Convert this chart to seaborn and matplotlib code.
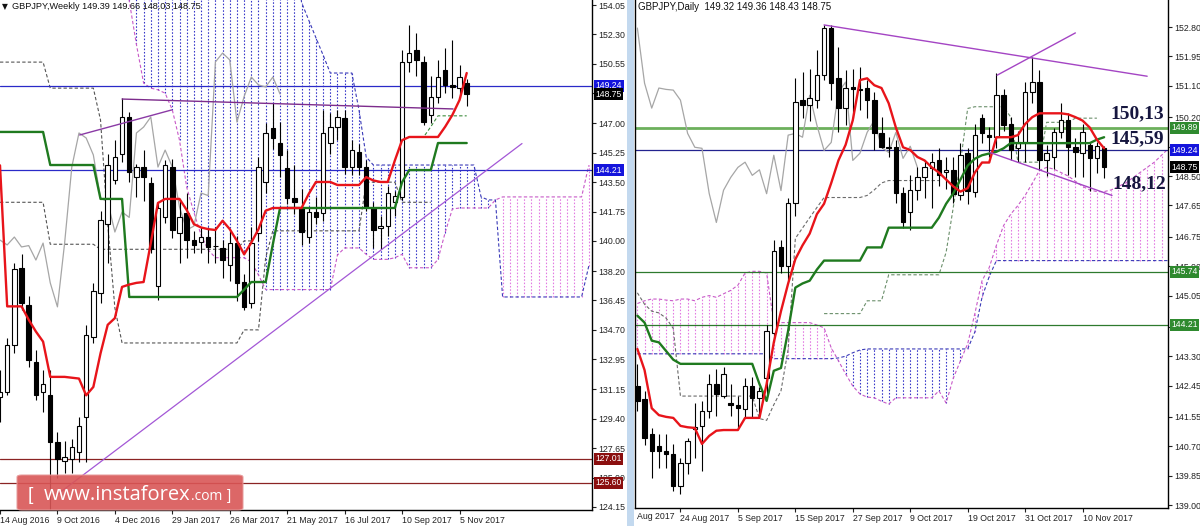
import numpy as np
import pandas as pd
import matplotlib
matplotlib.use('Agg')
import matplotlib.pyplot as plt
import matplotlib.transforms as mtransforms
from matplotlib.patches import Rectangle, FancyBboxPatch
import seaborn as sns

# ---------------- weekly GBPJPY (bar 0 = week of 14 Aug 2016) ----------------
w_open = [130.7, 131.0, 133.8, 138.4, 136.2, 132.8, 131.0, 130.8, 128.0, 126.9,
          127.0, 127.4, 129.5, 134.3, 136.9, 141.0, 143.6, 145.2, 147.4, 143.8,
          144.4, 143.45, 137.3, 141.4, 144.4, 140.5, 141.66, 140.05, 139.94, 140.23,
          139.68, 139.58, 138.57, 139.87, 137.55, 136.3, 140.47, 143.5, 146.72, 145.83,
          144.34, 142.56, 141.96, 140.23, 141.7, 141.66, 145.83, 146.78, 147.32, 144.4,
          145.29, 144.4, 141.96, 140.76, 140.88, 142.32, 142.62, 150.66, 151.37, 150.66,
          147.5, 148.6, 150.18, 149.29, 149.1, 149.39]
w_high = [132.3, 134.2, 138.7, 139.2, 136.7, 133.5, 132.3, 132.3, 128.6, 128.1,
          128.2, 129.5, 135.0, 137.5, 141.8, 145.2, 146.0, 148.5, 147.7, 144.6,
          145.4, 143.8, 142.26, 144.8, 144.9, 142.44, 142.85, 140.6, 140.8, 140.8,
          140.8, 140.05, 140.6, 140.3, 138.0, 140.8, 145.0, 147.0, 148.2, 147.1,
          145.4, 144.5, 143.1, 142.0, 142.6, 147.8, 147.6, 147.8, 147.8, 146.0,
          145.8, 144.8, 142.3, 141.5, 143.3, 143.0, 151.37, 152.86, 152.38, 151.0,
          149.8, 150.8, 151.49, 151.97, 150.48, 149.66]
w_low = [129.2, 130.8, 133.3, 135.9, 132.5, 130.5, 129.8, 122.4, 125.9, 126.2,
         126.2, 126.8, 126.8, 133.9, 136.3, 138.7, 143.4, 144.7, 143.5, 142.6,
         142.4, 139.3, 136.48, 141.07, 140.2, 138.7, 139.0, 139.3, 139.3, 138.7,
         138.7, 137.8, 137.6, 136.4, 135.9, 136.0, 140.0, 142.85, 145.5, 143.8,
         142.2, 141.6, 139.76, 139.9, 141.0, 141.2, 145.2, 146.0, 144.0, 143.9,
         143.9, 141.8, 139.58, 139.5, 140.3, 141.5, 142.44, 150.06, 149.8, 146.9,
         147.03, 148.2, 148.8, 148.5, 148.5, 148.03]
w_close = [131.0, 133.8, 138.3, 136.3, 132.9, 130.8, 131.5, 128.0, 127.0, 127.1,
           127.7, 129.0, 134.4, 137.0, 141.25, 144.5, 145.0, 147.4, 144.1, 144.4,
           143.8, 139.5, 141.96, 144.5, 140.65, 141.43, 140.05, 139.76, 140.23, 139.64,
           139.72, 138.86, 139.87, 137.5, 136.07, 139.87, 144.4, 146.43, 146.13, 145.12,
           142.56, 142.32, 140.53, 141.72, 141.4, 146.43, 146.78, 147.38, 144.4, 145.41,
           144.4, 142.02, 140.65, 140.88, 142.85, 142.7, 150.66, 151.19, 150.78, 147.08,
           148.6, 149.76, 149.29, 149.17, 149.76, 148.75]

w_tenkan = [144.5, 136.1, 136.1, 136.1, 135.3, 134.6, 134.0, 131.9, 131.9, 131.9,
            131.85, 131.8, 130.8, 131.3, 133.3, 135.0, 135.4, 137.26, 137.4, 137.5,
            137.55, 139.87, 142.26, 142.5, 142.5, 142.5, 141.84, 141.0, 140.8, 140.7,
            140.65, 141.2, 140.7, 140.0, 139.2, 139.9, 140.7, 141.8, 141.96, 141.96,
            141.96, 141.96, 141.96, 142.8, 143.51, 143.51, 143.51, 143.33, 143.33, 143.33,
            143.33, 143.8, 143.6, 143.51, 143.51, 144.8, 146.0, 146.19, 146.19, 146.19,
            146.19, 146.19, 146.8, 147.5, 148.39, 150.0]
w_kijun = ([146.49] * 7 + [144.52] * 7 + [142.5] * 4 + [136.66] * 16 + [137.1]
           + [137.55] * 3 + [139.8] + [141.96] * 17 + [143.5] + [144.22] * 4 + [145.83] * 5)

# senkou spans, bar 0 .. 82 (values above 154 lie off the top of the chart)
w_span_a = ([157.0] * 18 + [154.3, 151.7, 149.4, 149.1, 149.0, 148.8, 147.8, 146.0, 143.2, 141.7,
                            140.35, 139.46, 139.0, 139.0, 139.0, 139.0, 139.0, 138.75, 137.97, 137.1]
            + [137.1] * 9 + [139.16, 139.58, 139.58, 139.58, 139.2, 138.9, 138.9, 138.9, 139.0, 139.2,
                             138.4, 138.4, 138.4, 138.4, 138.9, 140.5, 141.9]
            + [141.96] * 5 + [142.44] + [142.62] * 12 + [144.5])
w_span_b = ([158.0] * 42 + [154.2, 153.15, 152.1, 151.07, 150.0, 150.0, 150.0, 150.0, 147.8, 145.0]
            + [144.52] * 15 + [142.62, 142.44, 142.44] + [136.66] * 12 + [138.5])

# extra dashed lines on the weekly chart
w_dash_gray = ([150.65] * 7 + [149.1] * 7 + [147.2, 141.0, 136.0] + [133.92] * 17 + [134.7] * 3
               + [139.0] + [140.6] * 13 + [143.5] * 5 + [142.3] * 5)
w_dash_gray2 = [142.3] * 7 + [139.8] * 7 + [139.5] * 20 + [140.0] * 2
w_dash_green = [146.19] * 3 + [146.8] + [147.45] * 5      # bars 57 .. 65

w_dates = ['14 Aug 2016', '9 Oct 2016', '4 Dec 2016', '29 Jan 2017', '26 Mar 2017',
           '21 May 2017', '16 Jul 2017', '10 Sep 2017', '5 Nov 2017']
w_yticks = [154.05, 152.30, 150.55, 148.80, 147.00, 145.25, 143.50, 141.75, 140.00, 138.20,
            136.45, 134.70, 132.95, 131.15, 129.40, 127.65, 125.90, 124.15]
w_hidden = [148.80]            # covered by the price tags

# ---------------- daily GBPJPY (bar 0 = 14 Aug 2017, data from bar 2) ----------------
d_open = [142.44, 142.07, 141.06, 140.71, 140.56, 140.48, 139.55, 140.22, 141.2, 141.29,
          141.72, 142.5, 142.15, 141.95, 141.89, 141.78, 142.44, 142.1, 142.68, 143.98,
          146.44, 145.9, 147.71, 150.69, 150.54, 150.69, 151.41, 152.77, 151.32, 150.46,
          151.06, 151.0, 151.04, 150.69, 149.73, 149.33, 149.33, 148.0, 147.45, 148.09,
          148.46, 148.72, 148.95, 148.63, 148.66, 147.94, 149.16, 148.03, 150.17, 149.68,
          149.62, 150.83, 149.99, 149.3, 149.47, 150.92, 151.21, 148.95, 149.04, 149.76,
          150.11, 149.33, 149.16, 149.39, 149.01, 149.32]
d_high = [143.08, 142.3, 141.23, 141.06, 141.06, 140.77, 140.37, 140.95, 141.95, 142.01,
          142.79, 142.94, 143.0, 142.5, 142.15, 142.68, 142.7, 142.4, 144.2, 146.64,
          146.64, 147.88, 151.32, 151.5, 151.6, 152.13, 152.86, 152.86, 152.22, 151.56,
          151.6, 151.64, 151.27, 150.92, 150.2, 149.62, 149.53, 148.17, 148.52, 148.75,
          148.95, 149.16, 149.3, 149.04, 149.04, 149.45, 149.3, 150.0, 150.3, 149.91,
          151.47, 151.0, 150.2, 149.8, 151.2, 151.93, 151.56, 149.4, 149.9, 150.6,
          150.31, 149.6, 150.0, 149.47, 149.47, 149.36]
d_low = [141.72, 140.75, 139.78, 140.07, 140.07, 139.41, 139.32, 139.9, 140.37, 139.98,
         141.52, 141.58, 142.1, 141.58, 141.23, 141.52, 141.52, 141.52, 142.21, 143.7,
         145.7, 145.5, 147.36, 150.17, 150.1, 150.46, 151.27, 150.69, 149.76, 149.97,
         150.17, 150.4, 150.17, 149.24, 149.3, 149.04, 147.71, 147.01, 146.93, 147.8,
         147.88, 147.59, 148.2, 148.14, 147.71, 147.8, 147.69, 147.9, 149.44, 149.04,
         149.3, 149.8, 148.95, 148.9, 148.9, 150.6, 148.66, 148.5, 148.7, 149.6,
         148.52, 148.46, 148.46, 148.08, 148.6, 148.43]
d_close = [142.01, 140.94, 140.56, 140.56, 140.48, 139.55, 140.22, 140.85, 141.25, 141.72,
           142.5, 142.21, 142.79, 141.89, 141.8, 142.44, 142.1, 142.3, 144.04, 146.35,
           145.9, 147.71, 150.63, 150.54, 150.75, 151.41, 152.77, 151.18, 150.46, 151.04,
           151.0, 150.98, 150.69, 149.73, 149.33, 149.3, 148.0, 147.16, 148.09, 148.46,
           148.75, 148.9, 148.52, 148.68, 147.99, 149.1, 148.08, 149.68, 149.73, 149.62,
           150.83, 149.97, 149.24, 149.47, 150.92, 151.21, 148.95, 149.16, 149.76, 150.11,
           149.33, 149.18, 149.76, 149.01, 149.36, 148.75]

d_tenkan = [143.51, 142.9, 141.8, 141.6, 141.55, 141.52, 141.29, 141.25, 141.23, 140.77,
            141.0, 141.15, 141.17, 141.17, 141.17, 141.52, 141.52, 141.52, 142.5, 143.7,
            144.6, 145.4, 146.1, 146.5, 146.84, 147.4, 147.7, 148.3, 148.95, 149.4,
            150.11, 151.27, 151.32, 151.12, 151.04, 150.6, 149.9, 149.33, 149.25, 149.05,
            148.95, 148.75, 148.6, 148.4, 148.2, 148.05, 148.15, 148.6, 148.89, 148.89,
            149.62, 149.62, 149.62, 149.68, 150.0, 150.2, 150.31, 150.31, 150.31, 150.31,
            150.28, 150.2, 150.1, 149.9, 149.55, 149.3]
d_kijun = ([144.47, 144.27, 143.75, 143.7, 143.45, 143.2] + [143.08] * 11 + [142.5, 142.01]
           + [142.88, 142.96, 144.04, 145.28, 145.4, 145.48, 145.8] + [146.06] * 6 + [146.44] * 3
           + [147.01] * 7 + [147.3, 147.7, 148.0, 148.4, 148.8, 149.0, 149.1, 149.15, 149.2, 149.3]
           + [149.45] * 12 + [149.55, 149.62])

# senkou spans, bar 2 .. 76
d_span_a = ([144.82, 144.9, 144.95, 144.95, 144.92, 144.9, 144.95, 144.95, 144.9, 145.0,
             145.05, 145.0, 145.1, 145.2, 145.35, 145.7, 145.75, 145.75, 145.7]
            + [144.27] * 6 + [144.2, 144.12, 143.54, 143.17, 142.79, 142.44, 142.21, 142.12,
                              142.1, 142.0, 141.92] + [142.1] * 6
            + [142.3, 141.95, 142.67, 143.17, 143.66, 144.53, 145.48, 145.86, 146.5, 147.07,
               147.4, 147.65, 147.94, 148.29, 148.66, 148.75, 148.7, 148.6, 148.5, 148.35,
               148.2, 148.1, 148.05, 148.05, 148.1, 148.2, 148.3, 148.45, 148.6, 148.75,
               148.9, 149.1, 149.3])
d_span_b = ([143.37] * 19 + [143.23] * 9 + [143.25, 143.3, 143.4, 143.48] + [143.51] * 15
            + [144.0, 145.0, 145.6] + [146.06] * 25)

d_dash_gray = ([145.13, 144.8, 144.6, 144.55, 144.4, 144.1] + [142.15] * 11
               + [141.5, 141.45, 141.9, 142.3, 143.5, 146.7, 147.0, 147.3, 147.59]
               + [147.88] * 6 + [147.94, 148.1, 148.3] + [148.37] * 8)          # bars 2 .. 44
d_dash_gray2 = ([144.53] * 6 + [144.9] * 3 + [145.65] * 8 + [146.3, 147.6, 148.9, 150.45]
                + [150.5] * 5 + [150.2] + [148.9] * 4 + [150.05] * 4 + [150.17] * 4)  # bars 28 .. 66

d_dates = ['24 Aug 2017', '5 Sep 2017', '15 Sep 2017', '27 Sep 2017', '9 Oct 2017',
           '19 Oct 2017', '31 Oct 2017', '10 Nov 2017']
d_yticks = [152.80, 151.95, 151.10, 150.20, 149.35, 148.50, 147.65, 146.75, 145.90, 145.05,
            144.15, 143.30, 142.45, 141.55, 140.70, 139.85, 139.00]
d_hidden = [149.35, 144.15]    # covered by the price tags

BLUE_HATCH = '#3434c8'
PINK_HATCH = '#e27ae2'
SPAN_A = '#c85ac8'
SPAN_B = '#3a3ab8'


def draw_candles(ax, x, o, h, l, c, width=0.62):
    ax.vlines(x, l, h, color='black', lw=0.8, zorder=4)
    for xi, oi, ci in zip(x, o, c):
        lo, hi = min(oi, ci), max(oi, ci)
        fc = 'white' if ci >= oi else 'black'
        ax.add_patch(Rectangle((xi - width / 2, lo), width, max(hi - lo, 0.015),
                               facecolor=fc, edgecolor='black', lw=0.8, zorder=4.5))


def draw_cloud(ax, a, b, start):
    x = np.arange(start, start + len(a))
    a = np.array(a)
    b = np.array(b)
    bear = b > a
    ax.vlines(x[bear], a[bear], b[bear], colors=BLUE_HATCH, linestyles=(0, (1.4, 1.6)), lw=0.8, zorder=1)
    ax.vlines(x[~bear], b[~bear], a[~bear], colors=PINK_HATCH, linestyles=(0, (1.4, 1.6)), lw=0.8, zorder=1)
    ax.plot(x, a, color=SPAN_A, ls=(0, (3, 2)), lw=0.8, zorder=1.5)
    ax.plot(x, b, color=SPAN_B, ls=(0, (3, 2)), lw=0.8, zorder=1.5)


def tag(ax, price, text, fc, tc='white'):
    tr = mtransforms.blended_transform_factory(ax.transAxes, ax.transData)
    ax.text(1.006, price, text, transform=tr, ha='left', va='center', fontsize=6.2, color=tc,
            zorder=10, clip_on=False,
            bbox=dict(boxstyle='square,pad=0.18', fc=fc, ec='none'))


def tick_text(values, hidden):
    return ['' if v in hidden else f'{v:.2f}' for v in values]


sns.set_theme(style='white')
plt.rcParams['font.family'] = ['Liberation Sans', 'DejaVu Sans']

fig = plt.figure(figsize=(12, 5.26), dpi=100)
fig.patch.set_facecolor('white')
axL = fig.add_axes([0, 1 - 510 / 526, 592 / 1200, 510 / 526])
axR = fig.add_axes([635 / 1200, 1 - 508 / 526, 533 / 1200, 508 / 526])

# ---------------- weekly panel ----------------
wx = np.arange(len(w_close))
draw_cloud(axL, w_span_a, w_span_b, 0)
axL.plot(np.arange(len(w_dash_gray)), w_dash_gray, color='#555555', ls=(0, (3, 2)), lw=0.8, zorder=2)
axL.plot(np.arange(len(w_dash_gray2)), w_dash_gray2, color='#555555', ls=(0, (3, 2)), lw=0.8, zorder=2)
axL.plot(np.arange(57, 57 + len(w_dash_green)), w_dash_green, color='#3c8c3c', ls=(0, (3, 2)), lw=0.8, zorder=2)

for lvl in (149.24, 144.21):
    axL.axhline(lvl, color='#2a2ac8', lw=0.9, zorder=2)
for lvl in (127.01, 125.60):
    axL.axhline(lvl, color='#8b2323', lw=0.9, zorder=2)

axL.plot([17, 63.1], [148.45, 147.86], color='#7d2c8c', lw=1.0, zorder=6)
axL.plot([11.1, 23.9], [146.31, 147.8], color='#8a3aa5', lw=1.0, zorder=6)
axL.plot([8, 72.7], [124.9, 145.8], color='#a357d6', lw=0.9, zorder=6)

weekly = pd.DataFrame({'bar': wx, 'tenkan': w_tenkan, 'kijun': w_kijun})
chik_w = pd.DataFrame({'bar': np.arange(len(w_close) - 26), 'chikou': w_close[26:]})
sns.lineplot(data=chik_w, x='bar', y='chikou', color='#a6a6a6', lw=0.9, ax=axL, zorder=3)
draw_candles(axL, wx, w_open, w_high, w_low, w_close)
sns.lineplot(data=weekly, x='bar', y='kijun', color='#1f7a1f', lw=1.7, ax=axL, zorder=5)
sns.lineplot(data=weekly, x='bar', y='tenkan', color='#e8141a', lw=1.7, ax=axL, zorder=5)

axL.set_xlim(0, 82.45)
axL.set_ylim(123.97, 154.35)
axL.set_xticks(np.arange(0, 65, 8))
axL.set_xticklabels(w_dates)
axL.set_yticks(w_yticks)
axL.set_yticklabels(tick_text(w_yticks, w_hidden))
axL.yaxis.tick_right()

tag(axL, 149.24, '149.24', '#1414dc')
tag(axL, 148.75, '148.75', '#000000')
tag(axL, 144.21, '144.21', '#1414dc')
tag(axL, 127.01, '127.01', '#8b0f0f')
tag(axL, 125.60, '125.60', '#8b0f0f')
axL.text(0.003, 0.997, '\u25BC', transform=axL.transAxes, ha='left', va='top', fontsize=5.5,
         color='#111111', family='DejaVu Sans', zorder=10)
axL.text(0.021, 0.997, 'GBPJPY,Weekly 149.39 149.66 148.03 148.75', transform=axL.transAxes,
         ha='left', va='top', fontsize=6.6, color='#111111', zorder=10)

# ---------------- daily panel ----------------
dx = np.arange(2, 2 + len(d_close))
draw_cloud(axR, d_span_a, d_span_b, 2)
axR.plot(np.arange(2, 2 + len(d_dash_gray)), d_dash_gray, color='#6b6b6b', ls=(0, (3, 2)), lw=0.8, zorder=2)
axR.plot(np.arange(28, 28 + len(d_dash_gray2)), d_dash_gray2, color='#6b8f6b', ls=(0, (3, 2)), lw=0.8, zorder=2)

axR.axhline(149.89, color='#6cb05c', lw=2.0, zorder=2)
axR.axhline(149.24, color='#23238f', lw=0.9, zorder=2)
for lvl in (145.74, 144.21):
    axR.axhline(lvl, color='#2e7a2e', lw=0.9, zorder=2)

axR.plot([28, 73.0], [152.86, 151.38], color='#a445c4', lw=1.0, zorder=6)
axR.plot([52.1, 63.0], [151.41, 152.63], color='#a445c4', lw=1.0, zorder=6)
axR.plot([51.1, 68.1], [149.18, 147.94], color='#a445c4', lw=1.0, zorder=6)

daily = pd.DataFrame({'bar': dx, 'tenkan': d_tenkan, 'kijun': d_kijun})
chik_d = pd.DataFrame({'bar': np.arange(2, 2 + len(d_close) - 26), 'chikou': d_close[26:]})
sns.lineplot(data=chik_d, x='bar', y='chikou', color='#a6a6a6', lw=0.9, ax=axR, zorder=3)
draw_candles(axR, dx, d_open, d_high, d_low, d_close)
sns.lineplot(data=daily, x='bar', y='kijun', color='#1f7a1f', lw=1.7, ax=axR, zorder=5)
sns.lineplot(data=daily, x='bar', y='tenkan', color='#e8141a', lw=1.7, ax=axR, zorder=5)

axR.set_xlim(1.67, 75.9)
axR.set_ylim(138.92, 153.58)
axR.set_xticks(np.arange(8, 65, 8))
axR.set_xticklabels(d_dates)
axR.set_yticks(d_yticks)
axR.set_yticklabels(tick_text(d_yticks, d_hidden))
axR.yaxis.tick_right()
axR.text(0.003, -0.007, 'Aug 2017', transform=axR.transAxes, ha='left', va='top',
         fontsize=6.3, color='#222222')

tag(axR, 149.89, '149.89', '#2f8a2f')
tag(axR, 149.24, '149.24', '#1414dc')
tag(axR, 148.75, '148.75', '#000000')
tag(axR, 145.74, '145.74', '#2f8a2f')
tag(axR, 144.21, '144.21', '#2f8a2f')
axR.text(0.006, 0.997, 'GBPJPY,Daily  149.32 149.36 148.43 148.75', transform=axR.transAxes,
         ha='left', va='top', fontsize=7, color='#111111', zorder=10)

for txt, xb, yb in (('150,13', 71.6, 150.31), ('145,59', 71.6, 149.59), ('148,12', 71.9, 148.29)):
    axR.text(xb, yb, txt, ha='center', va='center', fontsize=14, fontweight='bold',
             family='Liberation Serif', color='#16163f', zorder=9)

# ---------------- axes styling ----------------
for ax in (axL, axR):
    ax.set_xlabel('')
    ax.set_ylabel('')
    ax.set_facecolor('white')
    ax.grid(False)
    ax.tick_params(axis='y', direction='out', length=3, width=0.8, labelsize=6.3, pad=1.5,
                   colors='#222222', right=True, left=False)
    ax.tick_params(axis='x', direction='out', length=3, width=0.8, labelsize=6.3, pad=1,
                   colors='#222222', bottom=True)
    for lbl in ax.get_xticklabels():
        lbl.set_horizontalalignment('left')
    ax.spines['top'].set_visible(False)
    for s in ('right', 'bottom', 'left'):
        ax.spines[s].set_color('black')
        ax.spines[s].set_linewidth(1.0)
axL.spines['left'].set_visible(False)

# separator strip between the two charts
fig.add_artist(Rectangle((627 / 1200, 0), 7 / 1200, 1, transform=fig.transFigure,
                         facecolor='#c3d9ef', edgecolor='none', zorder=0))

# watermark
fig.add_artist(FancyBboxPatch((17 / 1200, 1 - 510 / 526), 226 / 1200, 35 / 526,
                              boxstyle='round,pad=0,rounding_size=0.004', transform=fig.transFigure,
                              facecolor='#d95656', edgecolor='#e79a9a', lw=0.8, alpha=0.9, zorder=20))
yb = 1 - 500 / 526
fig.text(28 / 1200, yb, '[', fontsize=14, color='white', va='baseline', zorder=21)
main = fig.text(44 / 1200, yb, 'www.instaforex', fontsize=14.5, color='white', va='baseline',
                family='Open Sans', zorder=21)
fig.canvas.draw()
end_x = main.get_window_extent(fig.canvas.get_renderer()).x1 / fig.bbox.width
fig.text(end_x, yb, '.com', fontsize=10, color='white', va='baseline', family='Open Sans', zorder=21)
fig.text(227 / 1200, yb, ']', fontsize=11, color='white', va='baseline', zorder=21)

fig.savefig('out.png', dpi=100, facecolor='white')
